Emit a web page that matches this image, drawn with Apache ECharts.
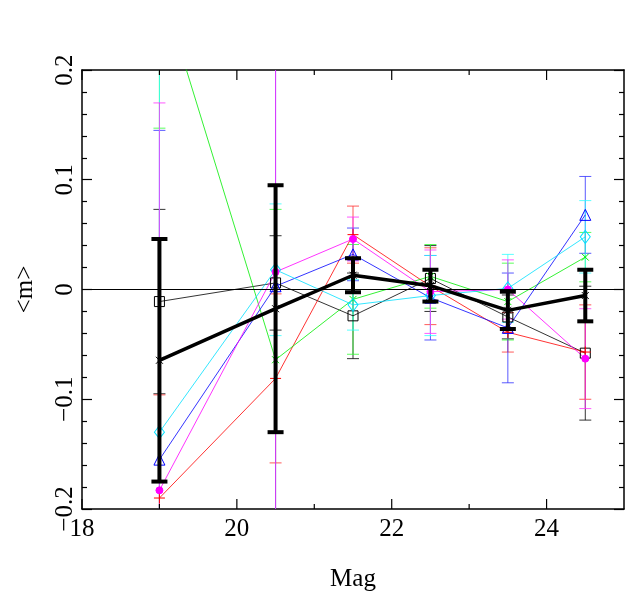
<!DOCTYPE html>
<html><head><meta charset="utf-8">
<script src="https://cdn.jsdelivr.net/npm/echarts@6/dist/echarts.min.js"></script>
<style>html,body{margin:0;padding:0;background:#fff}#c{width:641px;height:603px}</style>
</head><body><div id="c"></div>
<script>
// x positions (magnitude bins)
const mags = [19, 20.5, 21.5, 22.5, 23.5, 24.5];

const blackVals   = [-0.011, 0.006, -0.024, 0.010, -0.025, -0.058];
const blackErrs   = [0.084, 0.043, 0.039, 0.030, 0.020, 0.061];
const redVals     = [-0.190, -0.081, 0.050, 0.003, -0.039, -0.057];
const redErrs     = [0.094, 0.077, 0.026, 0.035, 0.018, 0.043];
const greenVals   = [0.280, -0.064, -0.009, 0.012, -0.011, 0.0295];
const greenErrs   = [0.133, 0.137, 0.050, 0.029, 0.035, 0.0225];
const blueVals    = [-0.155, 0.003, 0.032, -0.0075, -0.035, 0.068];
const blueErrs    = [0.300, 0.300, 0.024, 0.0385, 0.050, 0.035];
const cyanVals    = [-0.130, 0.018, -0.014, -0.0055, 0.001, 0.048];
const cyanErrs    = [0.360, 0.060, 0.023, 0.0365, 0.031, 0.033];
const magentaVals = [-0.183, 0.016, 0.046, -0.002, 0.000, -0.063];
const magentaErrs = [0.353, 0.300, 0.020, 0.038, 0.027, 0.0455];
const meanVals    = [-0.0645, -0.0175, 0.013, 0.0035, -0.019, -0.0055];
const meanErrs    = [0.1105, 0.1125, 0.0155, 0.0145, 0.017, 0.0235];

// axis ticks
const xMajorTicks = [18, 20, 22, 24];
const xMinorTicks = [19, 21, 23];
const xMin = 18, xMax = 25, xMajorStep = 2;
const yMin = -0.2, yMax = 0.2, yStep = 0.1;

const FONT = 'Liberation Serif';
const SYM_X = 'path://M0,0L10,10M10,0L0,10';
const SYM_PLUS = 'path://M5,0L5,10M0,5L10,5';

function errSeries(vals, errs, color, lw, capHalf, z) {
  return {
    type: 'custom', silent: true, z: z,
    data: mags.map((m, i) => [m, vals[i], errs[i]]),
    encode: { x: 0, y: 1 },
    renderItem: function (params, api) {
      const cs = params.coordSys;
      const x = api.value(0), v = api.value(1), e = api.value(2);
      const top = api.coord([x, v + e]);
      const bot = api.coord([x, v - e]);
      const px = top[0];
      const lo = cs.y, hi = cs.y + cs.height;
      const t = Math.max(lo, Math.min(hi, top[1]));
      const b = Math.max(lo, Math.min(hi, bot[1]));
      const st = { stroke: color, lineWidth: lw };
      const ch = [];
      if (b > t) ch.push({ type: 'line', shape: { x1: px, y1: t, x2: px, y2: b }, style: st });
      if (top[1] >= lo && top[1] <= hi) ch.push({ type: 'line', shape: { x1: px - capHalf, y1: top[1], x2: px + capHalf, y2: top[1] }, style: st });
      if (bot[1] >= lo && bot[1] <= hi) ch.push({ type: 'line', shape: { x1: px - capHalf, y1: bot[1], x2: px + capHalf, y2: bot[1] }, style: st });
      return { type: 'group', children: ch };
    }
  };
}

// x-axis tick marks (inside, bottom and top), positioned through the x scale
function xTickSeries(ticks, len) {
  return {
    type: 'custom', silent: true, z: 7,
    data: ticks.map(t => [t, 0]),
    encode: { x: 0, y: 1 },
    renderItem: function (params, api) {
      const cs = params.coordSys;
      const px = api.coord([api.value(0), 0])[0];
      const st = { stroke: '#000', lineWidth: 1.2 };
      return {
        type: 'group', children: [
          { type: 'line', shape: { x1: px, y1: cs.y + cs.height, x2: px, y2: cs.y + cs.height - len }, style: st },
          { type: 'line', shape: { x1: px, y1: cs.y, x2: px, y2: cs.y + len }, style: st }
        ]
      };
    }
  };
}

function lineSeries(vals, color, symbol, size, fill, lw, z) {
  return {
    type: 'line', z: z, clip: true,
    data: mags.map((m, i) => [m, vals[i]]),
    symbol: symbol, symbolSize: size, showAllSymbol: true,
    lineStyle: { color: color, width: lw },
    itemStyle: { color: fill, borderColor: color, borderWidth: 1 },
    emphasis: { disabled: true }, silent: true
  };
}

const yLabelFmt = v => {
  const r = Math.round(v * 10) / 10;
  if (r === 0) return '0';
  return (r < 0 ? '\u2212' : '') + Math.abs(r).toString();
};

const yAxisTickStyle = {
  axisLine: { show: true, onZero: false, lineStyle: { color: '#000', width: 1.5 } },
  axisTick: { show: true, interval: 0, inside: true, length: 10, lineStyle: { color: '#000', width: 1.2 } },
  minorTick: { show: true, splitNumber: 5, length: 5, lineStyle: { color: '#000', width: 1.2 } },
  splitLine: { show: false }
};

const option = {
  animation: false,
  backgroundColor: '#fff',
  grid: { left: 82, right: 17, top: 70, bottom: 94 },
  xAxis: [
    {
      type: 'value', position: 'bottom', min: xMin, max: xMax, interval: xMajorStep,
      name: 'Mag', nameLocation: 'middle', nameGap: 58,
      nameTextStyle: { color: '#000', fontFamily: FONT, fontSize: 25 },
      axisLine: { show: true, onZero: false, lineStyle: { color: '#000', width: 1.5 } },
      axisTick: { show: false },
      axisLabel: {
        color: '#000', fontFamily: FONT, fontSize: 25, margin: 8,
        formatter: v => (xMajorTicks.indexOf(v) >= 0 ? String(v) : '')
      },
      splitLine: { show: false }
    },
    {
      type: 'value', position: 'top', min: xMin, max: xMax, interval: xMajorStep,
      axisLine: { show: true, onZero: false, lineStyle: { color: '#000', width: 1.5 } },
      axisTick: { show: false }, axisLabel: { show: false }, splitLine: { show: false }
    }
  ],
  yAxis: [
    Object.assign({
      type: 'value', position: 'left', min: yMin, max: yMax, interval: yStep,
      name: '<m>', nameLocation: 'middle', nameGap: 44, nameRotate: 90,
      nameTextStyle: { color: '#000', fontFamily: FONT, fontSize: 25 },
      axisLabel: { rotate: 90, color: '#000', fontFamily: FONT, fontSize: 25, margin: 4, formatter: yLabelFmt }
    }, yAxisTickStyle),
    Object.assign({
      type: 'value', position: 'right', min: yMin, max: yMax, interval: yStep,
      axisLabel: { show: false }
    }, yAxisTickStyle)
  ],
  series: [
    {
      type: 'line', data: [], z: 1, silent: true,
      markLine: {
        silent: true, symbol: 'none', animation: false,
        label: { show: false },
        lineStyle: { color: '#000', width: 1.2, type: 'solid' },
        data: [{ yAxis: 0 }]
      }
    },
    xTickSeries(xMajorTicks, 10),
    xTickSeries(xMinorTicks, 5),
    errSeries(blackVals, blackErrs, '#000000', 0.8, 6, 2),
    errSeries(redVals, redErrs, '#ff3030', 0.8, 6, 2),
    errSeries(greenVals, greenErrs, '#30ff30', 0.8, 6, 2),
    errSeries(blueVals, blueErrs, '#3030ff', 0.8, 6, 2),
    errSeries(cyanVals, cyanErrs, '#30ffff', 0.8, 6, 2),
    errSeries(magentaVals, magentaErrs, '#ff30ff', 0.8, 6, 2),
    lineSeries(blackVals, '#000000', 'rect', 10, 'rgba(0,0,0,0)', 0.8, 3),
    lineSeries(redVals, '#ff0000', SYM_PLUS, 11, 'rgba(0,0,0,0)', 0.8, 3),
    lineSeries(greenVals, '#00ee00', SYM_X, 7, 'rgba(0,0,0,0)', 0.8, 3),
    lineSeries(blueVals, '#0000ff', 'triangle', 11, 'rgba(0,0,0,0)', 0.8, 3),
    lineSeries(cyanVals, '#00e0ff', 'diamond', [10, 13], 'rgba(0,0,0,0)', 0.8, 3),
    lineSeries(magentaVals, '#ff00ff', 'circle', 7, '#ff00ff', 0.8, 3),
    errSeries(meanVals, meanErrs, '#000000', 4, 8, 5),
    lineSeries(meanVals, '#000000', SYM_X, 7, 'rgba(0,0,0,0)', 3.5, 6)
  ]
};

const chart = echarts.init(document.getElementById('c'), null, { renderer: 'canvas' });
chart.setOption(option);
</script>
</body></html>
